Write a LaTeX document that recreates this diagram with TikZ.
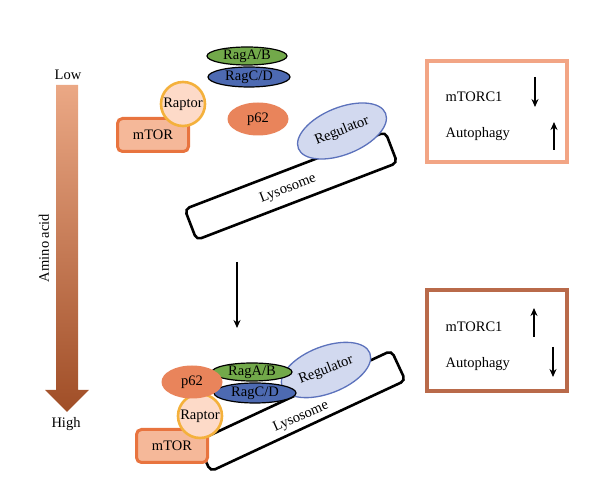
\documentclass[tikz,border=0pt]{standalone}
\usepackage{fontspec}
\setmainfont{Liberation Serif}
\usetikzlibrary{shapes.geometric, arrows.meta}

\definecolor{mtorfill}{HTML}{F5B899}
\definecolor{mtordraw}{HTML}{E8743F}
\definecolor{raptorfill}{HTML}{FDDAC8}
\definecolor{raptordraw}{HTML}{F4B13C}
\definecolor{p62fill}{HTML}{E9845B}
\definecolor{ragafill}{HTML}{72A94A}
\definecolor{ragcfill}{HTML}{4D6AB2}
\definecolor{regfill}{HTML}{D2D9EF}
\definecolor{regdraw}{HTML}{5C72BC}
\definecolor{boxlow}{HTML}{F2A585}
\definecolor{boxhigh}{HTML}{B96A4A}
\definecolor{aatop}{HTML}{EBA885}
\definecolor{aamid}{HTML}{E07C4A}
\definecolor{aabot}{HTML}{A04E27}

\tikzset{
	every protein/.style={ellipse, inner sep=0pt},
	protein raga/.style={fill=ragafill, draw=black, line width=1.2pt, minimum width=80, minimum height=18},
	protein ragc/.style={fill=ragcfill, draw=black, line width=1.2pt, minimum width=82, minimum height=20},
	protein p62/.style={fill=p62fill, minimum width=61, minimum height=33},
	protein raptor/.style={circle, fill=raptorfill, draw=raptordraw, line width=2.6pt, minimum size=44},
	protein mtor/.style={rectangle, rounded corners=5pt, fill=mtorfill, draw=mtordraw, line width=3pt, minimum width=71, minimum height=33},
	protein reg/.style={fill=regfill, draw=regdraw, line width=1.3pt, minimum width=94, minimum height=47},
	lysosome/.style={rectangle, rounded corners=5pt, draw=black, line width=2.6pt, fill=white, minimum width=215, minimum height=33},
	state box/.style={rectangle, line width=4pt, minimum width=140, minimum height=101},
}

\begin{document}
\begin{tikzpicture}[x=1pt, y=-1pt, >={Stealth[length=8pt, width=7pt]}, font=\fontsize{14.5}{17}\selectfont]
		\useasboundingbox (0,0) rectangle (595,502);

		% amino acid level
		\shade [top color=aatop, middle color=aamid, bottom color=aabot]
		(56,85) -- (78,85) -- (78,390) -- (89,390) -- (67,412) -- (45,390) -- (56,390) -- cycle;
		\node (low) at (68,75) {Low};
		\node (high) at (66,424) {High};
		\node [rotate=90] (amino) at (44,248) {Amino acid};

		% low amino acid
		\node [lysosome, rotate=21] (lyso-low) at (291,186) {};
		\node [rotate=21] (lysotext-low) at (288,189) {Lysosome};
		\node [every protein/.try, protein reg/.try, rotate=22] (reg-low) at (342,131) {Regulator};
		\foreach \p/\l/\x/\y in {raga/{RagA/B}/247/56, ragc/{RagC/D}/249/77, mtor/mTOR/153/135, raptor/Raptor/183/104, p62/p62/258/119}
		\node [every protein/.try, protein \p/.try] (\p-low) at (\x,\y) {\l};

		\coordinate (shift-a) at (237,262);
		\coordinate (shift-b) at (237,328);
		\draw [->, line width=1.5pt] (shift-a) -- (shift-b);

		% high amino acid
		\node [lysosome, rotate=25] (lyso-high) at (301,411) {};
		\node [rotate=24] (lysotext-high) at (301,417) {Lysosome};
		\node [every protein/.try, protein reg/.try, rotate=21] (reg-high) at (326,370) {Regulator};
		\foreach \p/\l/\x/\y in {raga/{RagA/B}/252/372, ragc/{RagC/D}/255/393, mtor/mTOR/172/446, raptor/Raptor/200/416, p62/p62/192/382}
		\node [every protein/.try, protein \p/.try] (\p-high) at (\x,\y) {\l};

		% mTORC1 and autophagy
		\foreach \s/\y/\c in {low/112/boxlow, high/341/boxhigh}
		\node [state box, draw=\c] (box-\s) at (497,\y) {};

		\foreach \s/\y in {low/102, high/332} {
			\node [anchor=base west] (mtorc-\s) at (442,\y) {mTORC1};
			\node [anchor=base west] (auto-\s) at (442,\y+36) {Autophagy};
		}

		\foreach \n/\x/\ya/\yb in {ml/535/77/107, al/554/150/122, mh/534/337/308, ah/553/347/377} {
			\coordinate (\n-s) at (\x,\ya);
			\coordinate (\n-e) at (\x,\yb);
			\draw [->, line width=1.8pt] (\n-s) -- (\n-e);
		}
	\end{tikzpicture}
\end{document}
